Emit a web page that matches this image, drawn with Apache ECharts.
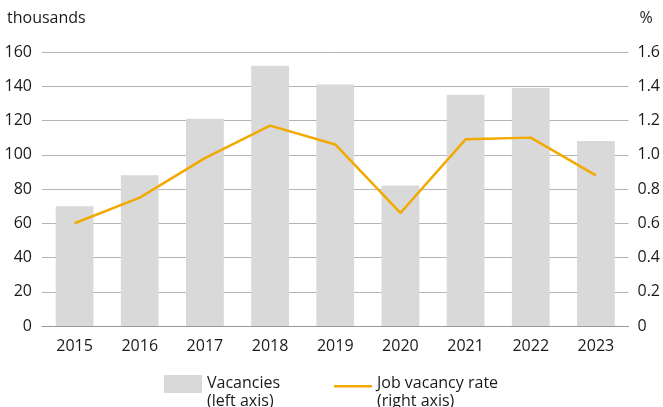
<!DOCTYPE html>
<html><head><meta charset="utf-8">
<script src="https://cdn.jsdelivr.net/npm/echarts@6/dist/echarts.min.js"></script>
<style>html,body{margin:0;padding:0;background:#fff}#c{width:663px;height:407px}</style>
</head><body><div id="c"></div>
<script>
var years = ['2015','2016','2017','2018','2019','2020','2021','2022','2023'];
var vacancies = [70, 88, 121, 152, 141, 82, 135, 139, 108];
var vacancyRate = [0.60, 0.75, 0.98, 1.17, 1.06, 0.66, 1.09, 1.10, 0.88];
var leftTicks = [0, 20, 40, 60, 80, 100, 120, 140, 160];
var rightTicks = [0, 0.2, 0.4, 0.6, 0.8, 1.0, 1.2, 1.4, 1.6];

var FONT = 'Open Sans';
var TXT = '#1a1a1a';
var chart = echarts.init(document.getElementById('c'), null, {renderer: 'canvas'});
chart.setOption({
  animation: false,
  textStyle: {fontFamily: FONT},
  grid: {left: 42, right: 34, top: 52, bottom: 81, containLabel: false},
  legend: [{
    data: [{name: 'Vacancies\n(left axis)', icon: 'path://M0,0L38,0L38,18L0,18Z M0,34L0.01,34L0,34.01Z'}],
    left: 159, top: 369, itemWidth: 38, itemHeight: 34, itemGap: 9,
    textStyle: {fontFamily: FONT, fontSize: 16, color: TXT, lineHeight: 18}
  }, {
    data: [{name: 'Job vacancy rate\n(right axis)', icon: 'path://M0,10L38,10L38,12.6L0,12.6Z M0,34L0.01,34L0,34.01Z M0,0L0.01,0L0,0.01Z'}],
    left: 329, top: 369, itemWidth: 38, itemHeight: 34, itemGap: 10,
    textStyle: {fontFamily: FONT, fontSize: 16, color: TXT, lineHeight: 18}
  }],
  xAxis: {
    type: 'category', data: years,
    axisLine: {show: true, lineStyle: {color: '#999', width: 1}},
    axisTick: {show: false},
    axisLabel: {color: TXT, fontSize: 16, margin: 12, fontFamily: FONT}
  },
  yAxis: [{
    type: 'value', min: 0, max: 160, interval: 20,
    name: 'thousands', nameLocation: 'end', nameGap: 26,
    nameTextStyle: {align: 'left', padding: [0, 0, 0, -35], color: TXT, fontSize: 16, fontFamily: FONT},
    axisLine: {show: false}, axisTick: {show: false},
    axisLabel: {color: TXT, fontSize: 16, margin: 10, fontFamily: FONT,
      formatter: function (v) { return leftTicks.indexOf(v) >= 0 ? String(v) : ''; }},
    splitLine: {show: true, lineStyle: {color: '#b5b5b5', width: 1}}
  }, {
    type: 'value', min: 0, max: 1.6, interval: 0.2, position: 'right',
    name: '%', nameLocation: 'end', nameGap: 26,
    nameTextStyle: {align: 'left', padding: [0, 0, 0, 11], color: TXT, fontSize: 16, fontFamily: FONT},
    axisLine: {show: false}, axisTick: {show: false},
    axisLabel: {color: TXT, fontSize: 16, margin: 9, fontFamily: FONT,
      formatter: function (v) {
        var r = Math.round(v * 10) / 10;
        if (r === 0) return '0';
        return r.toFixed(1);
      }},
    splitLine: {show: false}
  }],
  series: [{
    name: 'Vacancies\n(left axis)', type: 'bar', data: vacancies, yAxisIndex: 0,
    barWidth: '58%', itemStyle: {color: '#d9d9d9'}
  }, {
    name: 'Job vacancy rate\n(right axis)', type: 'line', data: vacancyRate, yAxisIndex: 1,
    symbol: 'none', lineStyle: {color: '#f2a900', width: 2.5}, itemStyle: {color: '#f2a900'}
  }]
});
</script></body></html>
